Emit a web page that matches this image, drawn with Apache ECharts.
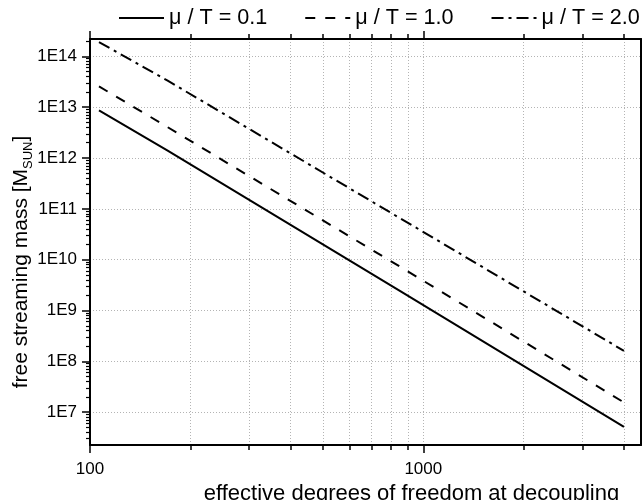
<!DOCTYPE html>
<html>
<head>
<meta charset="utf-8">
<script src="https://cdn.jsdelivr.net/npm/echarts@6/dist/echarts.min.js"></script>
<style>html,body{margin:0;padding:0;background:#fff}#c{width:642px;height:500px}</style>
</head>
<body>
<div id="c"></div>
<script>
// ---- data (log-log) ----
const seriesNames = ['μ / T = 0.1', 'μ / T = 1.0', 'μ / T = 2.0'];
const gSolid = [106.4, 171, 853, 4000];
const mSolid = [8.7e12, 1.4e12, 2.4e9, 5.1e6];
const gDash = [106.4, 166, 895, 4000];
const mDash = [2.57e13, 4.55e12, 5.97e9, 1.55e7];
const gDashDot = [106.4, 171, 1125, 4000];
const mDashDot = [1.91e14, 3.33e13, 2.22e10, 1.6e8];

// ---- axes / ticks ----
const xMin = 100, xMax = 4500;
const yMin = 2.25e6, yMax = 2.2e14;
const xMajorTicks = [100, 1000];
const xMinorTicks = [200, 300, 400, 500, 600, 700, 800, 900, 2000, 3000, 4000];
const yMajorTicks = [1e7, 1e8, 1e9, 1e10, 1e11, 1e12, 1e13, 1e14];
const yMinorMult = [2, 3, 4, 5, 6, 7, 8, 9];
const yDecades = [1e6, 1e7, 1e8, 1e9, 1e10, 1e11, 1e12, 1e13, 1e14];
const yMinorTicks = [];
yDecades.forEach(d => yMinorMult.forEach(m => { const v = m * d; if (v > yMin && v < yMax) yMinorTicks.push(v); }));

const FONT = '"Liberation Sans", Arial, sans-serif';
const gridLine = { show: true, lineStyle: { color: '#b4b4b4', width: 1, type: [1, 2] } };
const noLine = { show: false };

function zip(a, b) { return a.map((v, i) => [v, b[i]]); }

const chart = echarts.init(document.getElementById('c'), null, { renderer: 'canvas' });
chart.setOption({
  animation: false,
  backgroundColor: '#fff',
  textStyle: { fontFamily: FONT },
  legend: {
    left: 118, top: 7, width: 600, padding: 0,
    itemWidth: 45, itemHeight: 14, itemGap: 37,
    itemStyle: { opacity: 0 },
    textStyle: { fontSize: 21.6, color: '#000', fontFamily: FONT },
    data: seriesNames
  },
  grid: { left: 90, right: 1, top: 39, bottom: 55, containLabel: false, outerBoundsMode: 'none' },
  xAxis: [
    {
      type: 'log', logBase: 10, min: xMin, max: xMax, position: 'bottom',
      axisLine: { show: true, onZero: false, lineStyle: { color: '#000', width: 2 } },
      axisTick: { show: true, inside: false, length: 8, lineStyle: { color: '#000', width: 1.5 }, customValues: xMajorTicks },
      axisLabel: { show: true, customValues: xMajorTicks, formatter: v => String(Math.round(v)), fontSize: 17, color: '#000', margin: 16, fontFamily: FONT },
      splitLine: gridLine, minorTick: noLine, minorSplitLine: noLine,
      name: 'effective degrees of freedom at decoupling', nameLocation: 'middle', nameGap: 35,
      nameTextStyle: { fontSize: 22, color: '#000', fontFamily: FONT, padding: [0, 0, 0, 92] }
    },
    {
      type: 'log', logBase: 10, min: xMin, max: xMax, position: 'bottom',
      axisLine: noLine,
      axisTick: { show: true, inside: false, length: 5, lineStyle: { color: '#000', width: 1.5 }, customValues: xMinorTicks },
      axisLabel: { show: false }, splitLine: gridLine, minorTick: noLine
    },
    {
      type: 'log', logBase: 10, min: xMin, max: xMax, position: 'top',
      axisLine: { show: true, onZero: false, lineStyle: { color: '#000', width: 2 } },
      axisTick: { show: true, inside: false, length: 8, lineStyle: { color: '#000', width: 1.5 }, customValues: xMajorTicks },
      axisLabel: { show: false }, splitLine: noLine, minorTick: noLine
    },
    {
      type: 'log', logBase: 10, min: xMin, max: xMax, position: 'top',
      axisLine: noLine,
      axisTick: { show: true, inside: false, length: 5, lineStyle: { color: '#000', width: 1.5 }, customValues: xMinorTicks },
      axisLabel: { show: false }, splitLine: noLine, minorTick: noLine
    }
  ],
  yAxis: [
    {
      type: 'log', logBase: 10, min: yMin, max: yMax, position: 'left',
      axisLine: { show: true, onZero: false, lineStyle: { color: '#000', width: 2 } },
      axisTick: { show: true, inside: false, length: 8, lineStyle: { color: '#000', width: 1.5 }, customValues: yMajorTicks },
      axisLabel: { show: true, customValues: yMajorTicks, formatter: v => '1E' + Math.round(Math.log10(v)), fontSize: 17, color: '#000', margin: 13, fontFamily: FONT },
      splitLine: gridLine, minorTick: noLine, minorSplitLine: noLine,
      name: 'free streaming mass [M{sub|SUN}]', nameLocation: 'middle', nameGap: 55, nameRotate: 90,
      nameMoveOverlap: false,
      nameTextStyle: {
        fontSize: 21, color: '#000', fontFamily: FONT, padding: [0, 40, 0, 0], lineHeight: 28,
        rich: { sub: { fontSize: 13, fontFamily: FONT, color: '#000', verticalAlign: 'bottom', lineHeight: 14 } }
      }
    },
    {
      type: 'log', logBase: 10, min: yMin, max: yMax, position: 'left',
      axisLine: noLine,
      axisTick: { show: true, inside: false, length: 4, lineStyle: { color: '#000', width: 1.2 }, customValues: yMinorTicks },
      axisLabel: { show: false }, splitLine: noLine, minorTick: noLine
    },
    {
      type: 'log', logBase: 10, min: yMin, max: yMax, position: 'right',
      axisLine: { show: true, onZero: false, lineStyle: { color: '#000', width: 2 } },
      axisTick: { show: false }, axisLabel: { show: false }, splitLine: noLine, minorTick: noLine
    }
  ],
  series: [
    {
      name: seriesNames[0], type: 'line', xAxisIndex: 0, yAxisIndex: 0,
      data: zip(gSolid, mSolid), symbol: 'none', smooth: false,
      lineStyle: { color: '#000', width: 2, type: 'solid', cap: 'butt' },
      itemStyle: { color: '#000' }
    },
    {
      name: seriesNames[1], type: 'line', xAxisIndex: 0, yAxisIndex: 0,
      data: zip(gDash, mDash), symbol: 'none', smooth: false,
      lineStyle: { color: '#000', width: 2, type: [10, 10], cap: 'butt' },
      itemStyle: { color: '#000' }
    },
    {
      name: seriesNames[2], type: 'line', xAxisIndex: 0, yAxisIndex: 0,
      data: zip(gDashDot, mDashDot), symbol: 'none', smooth: false,
      lineStyle: { color: '#000', width: 2, type: [12, 5, 3, 5], cap: 'butt' },
      itemStyle: { color: '#000' }
    }
  ]
});
</script>
</body>
</html>
